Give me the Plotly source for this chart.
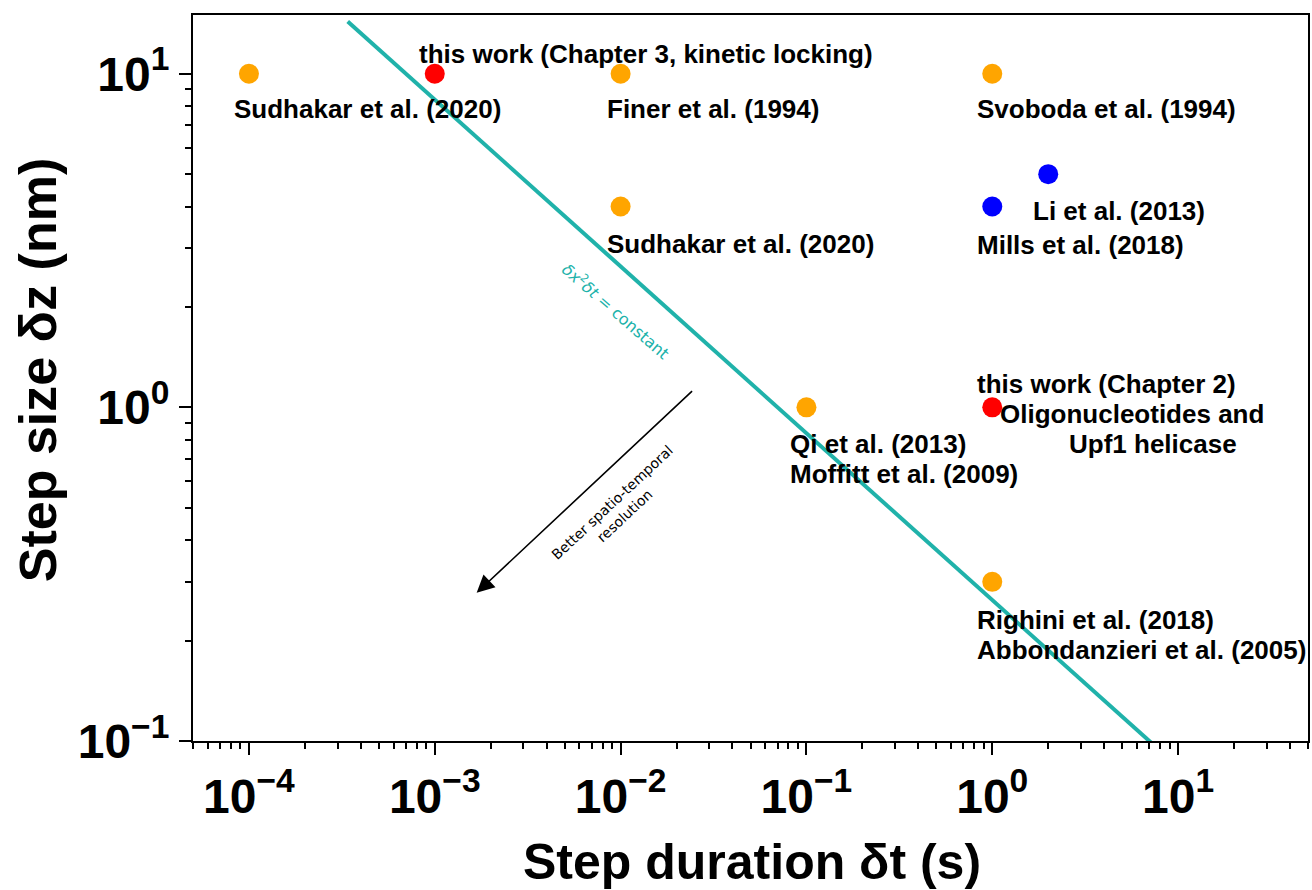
import numpy as np
import plotly.graph_objects as go

# Step duration (s) and step size (nm) for each reported measurement
step_duration_s = [1e-4, 1e-3, 1e-2, 1.0, 2.0, 1.0, 1e-2, 1e-1, 1.0, 1.0]
step_size_nm = [10, 10, 10, 10, 5, 4, 4, 1, 1, 0.3]
point_colors = ["#FFA500", "#FF0000", "#FFA500", "#FFA500", "#0000FF",
                "#0000FF", "#FFA500", "#FFA500", "#FF0000", "#FFA500"]

# Label lines attached to each point (index into the arrays above)
label_point = [0, 1, 2, 3, 4, 5, 6, 7, 7, 8, 8, 8, 9, 9]
label_text = [
    "Sudhakar et al. (2020)",
    "this work (Chapter 3, kinetic locking)",
    "Finer et al. (1994)",
    "Svoboda et al. (1994)",
    "Li et al. (2013)",
    "Mills et al. (2018)",
    "Sudhakar et al. (2020)",
    "Qi et al. (2013)",
    "Moffitt et al. (2009)",
    "this work (Chapter 2)",
    "Oligonucleotides and",
    "Upf1 helicase",
    "Righini et al. (2018)",
    "Abbondanzieri et al. (2005)",
]
# pixel offsets of each label line from its point (left edge, vertical centre)
label_dx = [-17, -18, -16, -17, -17, -17, -16, -18, -18, -17, 6, 75, -17, -17]
label_dy = [-35, 20, -35, -35, -37, -38, -37, -37, -67, 23, -7, -37, -38, -68]

# Axis ticks (decades)
x_tick_exp = [-4, -3, -2, -1, 0, 1]
y_tick_exp = [-1, 0, 1]

# Iso-resolution line: dz^2 * dt = constant  (nm^2 s)
line_constant = 0.07
line_t_start, line_t_end = 3.4e-4, 10.0
line_t = np.logspace(np.log10(line_t_start), np.log10(line_t_end), 60)
line_z = np.sqrt(line_constant / line_t)

# "Better resolution" arrow (tail -> head), in data units
arrow_tail = (0.0247, 1.13)
arrow_head = (0.00168, 0.278)

x_range = (5e-5, 50)
y_range = (0.1, 15)

teal = "#20B2AA"
font_family = "Liberation Sans, Arial, sans-serif"


def power_label(e):
    return "10<sup>%s</sup>" % (str(e).replace("-", "\u2212"))


fig = go.Figure()

fig.add_trace(go.Scatter(
    x=line_t, y=line_z, mode="lines",
    line=dict(color=teal, width=4),
    hoverinfo="skip", showlegend=False,
))

fig.add_trace(go.Scatter(
    x=step_duration_s, y=step_size_nm, mode="markers",
    marker=dict(color=point_colors, size=20, line=dict(width=0)),
    showlegend=False,
))

annotations = []
for idx, txt, dx, dy in zip(label_point, label_text, label_dx, label_dy):
    annotations.append(dict(
        x=np.log10(step_duration_s[idx]), y=np.log10(step_size_nm[idx]),
        xref="x", yref="y", text=txt, showarrow=False,
        xanchor="left", yanchor="middle", xshift=dx, yshift=dy,
        font=dict(family=font_family, size=26, color="black", weight="bold"),
    ))

# label along the iso-resolution line, just below it
const_t = 0.0095
annotations.append(dict(
    x=np.log10(const_t), y=0.5 * np.log10(line_constant / const_t) - 0.146,
    xref="x", yref="y",
    text="<i>δx</i><sup>2</sup><i>δt</i> = constant",
    showarrow=False, textangle=41,
    font=dict(family="DejaVu Sans", size=16, color=teal),
))

# resolution arrow
annotations.append(dict(
    x=np.log10(arrow_head[0]), y=np.log10(arrow_head[1]),
    ax=np.log10(arrow_tail[0]), ay=np.log10(arrow_tail[1]),
    xref="x", yref="y", axref="x", ayref="y",
    text="", showarrow=True, arrowhead=2, arrowsize=2.2,
    arrowwidth=1.6, arrowcolor="black",
))
annotations.append(dict(
    x=-2.011, y=-0.306, xref="x", yref="y",
    text="Better spatio-temporal<br>resolution",
    showarrow=False, textangle=-43,
    font=dict(family="DejaVu Sans", size=14, color="black"),
))

# axis titles
annotations.append(dict(
    x=0.5013, y=-0.1667, xref="paper", yref="paper",
    text="Step duration δt (s)", showarrow=False,
    xanchor="center", yanchor="middle",
    font=dict(family=font_family, size=50, color="black", weight="bold"),
))
annotations.append(dict(
    x=-0.1388, y=0.511, xref="paper", yref="paper",
    text="Step size δz (nm)", showarrow=False, textangle=-90,
    xanchor="center", yanchor="middle",
    font=dict(family=font_family, size=52, color="black", weight="bold"),
))

axis_common = dict(
    type="log",
    showline=True, linecolor="black", linewidth=2, mirror=True,
    ticks="outside", ticklen=12, tickwidth=2, tickcolor="black",
    showgrid=False, zeroline=False,
    tickfont=dict(family=font_family, size=48, color="black", weight="bold"),
    minor=dict(ticks="outside", ticklen=6, tickwidth=1.5, tickcolor="black",
               dtick="D1", showgrid=False),
)

fig.update_layout(
    width=1312, height=890,
    margin=dict(l=193, r=2, t=15, b=149),
    paper_bgcolor="white", plot_bgcolor="white",
    xaxis=dict(axis_common, range=[np.log10(x_range[0]), np.log10(x_range[1])],
               tickvals=[10.0 ** e for e in x_tick_exp],
               ticktext=[power_label(e) for e in x_tick_exp]),
    yaxis=dict(axis_common, range=[np.log10(y_range[0]), np.log10(y_range[1])],
               tickvals=[10.0 ** e for e in y_tick_exp],
               ticktext=[power_label(e) for e in y_tick_exp]),
    annotations=annotations,
)

fig.write_html("out.html")
